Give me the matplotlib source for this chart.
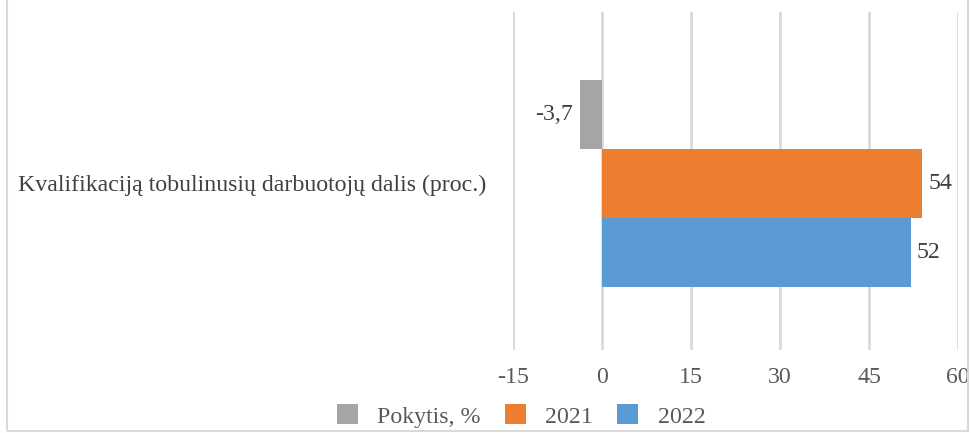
import matplotlib.pyplot as plt
from matplotlib.patches import Rectangle

plt.rcParams['font.family'] = ['Liberation Serif', 'DejaVu Serif']

category = 'Kvalifikaciją tobulinusių darbuotojų dalis (proc.)'
series = ['Pokytis, %', '2021', '2022']
values = [-3.7, 54, 52]
colors = ['#A5A5A5', '#ED7D31', '#5B9BD5']
xticks = [-15, 0, 15, 30, 45, 60]

fs = 17.2
fig = plt.figure(figsize=(9.71, 4.33), dpi=100)
ax = fig.add_axes([513/971, 1 - 350/433, (958 - 513)/971, (350 - 12)/433])

offsets = [1, 0, -1]
for name, v, c, off in zip(series, values, colors, offsets):
    ax.barh(off, v, height=1.0, color=c, label=name, zorder=3)
    lbl = ('%g' % v).replace('.', ',')
    if v < 0:
        ax.text(v - 1.2, off, lbl, ha='right', va='center', fontsize=fs, color='#404040')
    else:
        ax.text(v + 1.0, off, lbl, ha='left', va='center', fontsize=fs, color='#404040')

ax.set_xlim(-15, 60)
ax.set_ylim(-2.42, 2.48)
ax.set_xticks(xticks)
ax.set_xticklabels([str(t) for t in xticks], fontsize=fs, color='#595959')
ax.set_yticks([0])
ax.set_yticklabels([category], fontsize=fs, color='#404040')
ax.tick_params(length=0, pad=12)
ax.tick_params(axis='y', pad=19)
ax.grid(axis='x', color='#d9d9d9', linewidth=2, zorder=0)
for s in ax.spines.values():
    s.set_visible(False)

handles, labels = ax.get_legend_handles_labels()
fig.legend(handles, labels, loc='center', bbox_to_anchor=(521/971, 1 - 416/433), ncol=3,
           frameon=False, fontsize=fs, handlelength=0.9, handleheight=0.9,
           columnspacing=1.0, handletextpad=0.8, labelcolor='#595959')

fig.patches.append(Rectangle((7/971, 2/433), (968 - 7)/971, 1.0, transform=fig.transFigure,
                             fill=False, edgecolor='#d9d9d9', linewidth=1.5))

fig.savefig('out.png', dpi=100)
